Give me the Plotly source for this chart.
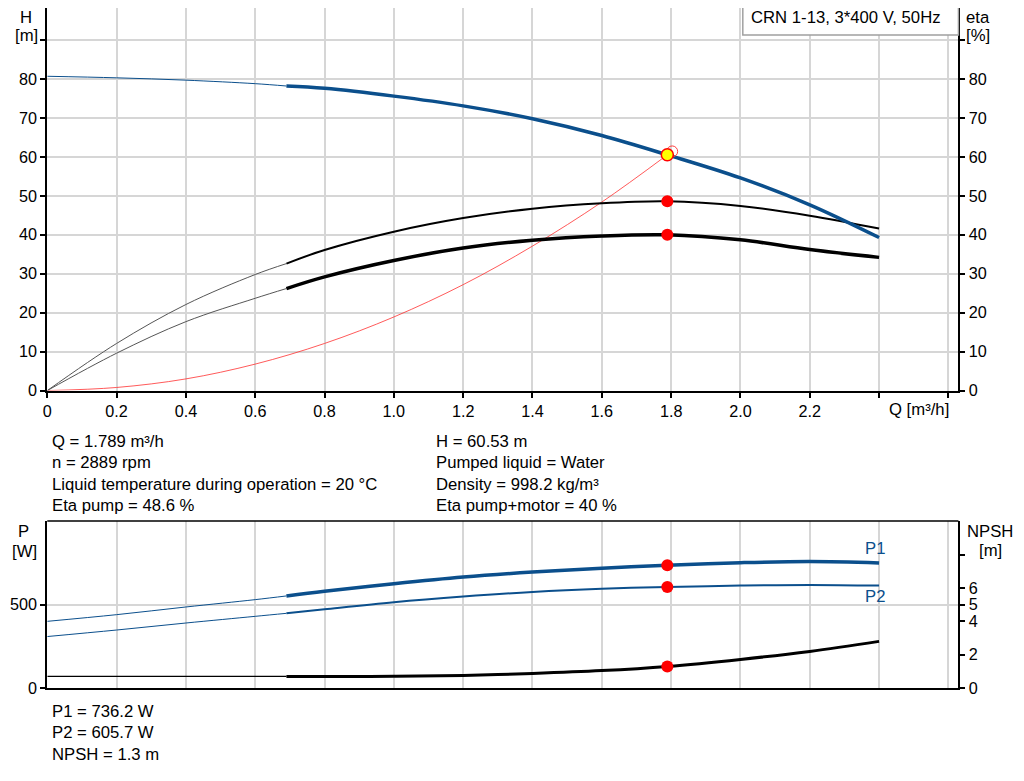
import plotly.graph_objects as go

# curve data
q_pts = [0, 0.2, 0.4, 0.6, 0.69, 0.8, 1.0, 1.2, 1.4, 1.6, 1.789, 2.0, 2.2, 2.4]
head_m = [80.7, 80.3, 79.7, 78.8, 78.2, 77.6, 75.6, 73.1, 69.8, 65.5, 60.53, 54.6, 47.7, 39.3]
eta_pump = [0, 12.1, 22.1, 29.8, 32.6, 36.1, 40.8, 44.3, 46.7, 48.1, 48.6, 47.4, 44.9, 41.6]
eta_total = [0, 9.6, 17.7, 23.7, 26.2, 29.2, 33.4, 36.6, 38.6, 39.7, 40.0, 38.7, 36.2, 34.2]
p1_w = [400, 440, 486, 530, 552, 580, 625, 665, 695, 718, 736.2, 751, 758, 750]
p2_w = [309, 348, 390, 430, 448, 472, 514, 548, 576, 595, 605.7, 614, 618, 614]
npsh_m = [0.7, 0.7, 0.7, 0.7, 0.7, 0.7, 0.71, 0.76, 0.88, 1.05, 1.3, 1.72, 2.2, 2.8]

# system curve up to the duty point
q_sys = [0, 0.2, 0.4, 0.6, 0.8, 1.0, 1.2, 1.4, 1.6, 1.789]
h_sys = [0, 0.8, 3.0, 6.8, 12.1, 18.9, 27.2, 37.1, 48.4, 60.53]

q_duty = 1.789
h_duty = 60.53
eta_pump_duty = 48.6
eta_total_duty = 40
p1_duty = 736.2
p2_duty = 605.7
npsh_duty = 1.3

x_ticks = [0, 0.2, 0.4, 0.6, 0.8, 1.0, 1.2, 1.4, 1.6, 1.8, 2.0, 2.2, 2.4, 2.6]
x_labels = ['0', '0.2', '0.4', '0.6', '0.8', '1.0', '1.2', '1.4', '1.6', '1.8', '2.0', '2.2', '', '']
h_ticks = [0, 10, 20, 30, 40, 50, 60, 70, 80, 90]
h_labels = ['0', '10', '20', '30', '40', '50', '60', '70', '80', '']
p_ticks = [0, 500]
npsh_ticks = [0, 2, 4, 5, 6, 8]
npsh_labels = ['0', '2', '4', '5', '6', '']

info_left = ['Q = 1.789 m³/h', 'n = 2889 rpm',
             'Liquid temperature during operation = 20 °C', 'Eta pump = 48.6 %']
info_right = ['H = 60.53 m', 'Pumped liquid = Water',
              'Density = 998.2 kg/m³', 'Eta pump+motor = 40 %']
info_bottom = ['P1 = 736.2 W', 'P2 = 605.7 W', 'NPSH = 1.3 m']

BLUE = '#0b4f8c'
FONT = 'Liberation Sans, Arial, sans-serif'
TXT = 16.7
TICK = 16.2

# figure sits 8px into the page and the shot comes out a little squeezed
# vertically; positions below are wanted screen pixels, mapped back here
OFF = 8
FW, FH = 1008, 765
SY, CY = 0.988, -0.9
SX, CX = 0.9967, 3.0


def px(sx):
    return ((sx - CX) / SX - OFF) / FW


def py(sy):
    return 1 - ((sy - CY) / SY - OFF) / FH


i0 = q_pts.index(0.69)

fig = go.Figure()


def two_part(x, y, xa, ya, color, thin, thick, thin_color=None):
    fig.add_trace(go.Scatter(x=x[:i0 + 1], y=y[:i0 + 1], xaxis=xa, yaxis=ya, mode='lines',
                             line=dict(color=thin_color or color, width=thin, shape='spline'),
                             hoverinfo='skip'))
    fig.add_trace(go.Scatter(x=x[i0:], y=y[i0:], xaxis=xa, yaxis=ya, mode='lines',
                             line=dict(color=color, width=thick, shape='spline'),
                             hoverinfo='skip'))


# top chart
fig.add_trace(go.Scatter(x=q_sys, y=h_sys, mode='lines', line=dict(color='#ff3030', width=0.8, shape='spline'),
                         hoverinfo='skip'))
two_part(q_pts, eta_pump, 'x', 'y', 'black', 1, 2, '#555555')
two_part(q_pts, eta_total, 'x', 'y', 'black', 1, 3.5, '#555555')
two_part(q_pts, head_m, 'x', 'y', BLUE, 1, 3.5)
fig.add_trace(go.Scatter(x=[q_duty, q_duty], y=[eta_pump_duty, eta_total_duty], mode='markers',
                         marker=dict(color='red', size=12), hoverinfo='skip'))
fig.add_trace(go.Scatter(x=[1.803], y=[61.4], mode='markers',
                         marker=dict(color='rgba(0,0,0,0)', size=11, line=dict(color='#ff4040', width=1)),
                         hoverinfo='skip'))
fig.add_trace(go.Scatter(x=[q_duty], y=[h_duty], mode='markers',
                         marker=dict(color='#ffff00', size=12, line=dict(color='red', width=1.5)),
                         hoverinfo='skip'))
# invisible trace to activate right eta axis
fig.add_trace(go.Scatter(x=[0], y=[0], yaxis='y2', mode='markers', marker=dict(opacity=0), hoverinfo='skip'))

# bottom chart
two_part(q_pts, p1_w, 'x2', 'y3', BLUE, 1, 3.5)
two_part(q_pts, p2_w, 'x2', 'y3', BLUE, 1, 2)
two_part(q_pts, npsh_m, 'x2', 'y4', 'black', 1.2, 3)
fig.add_trace(go.Scatter(x=[q_duty, q_duty], y=[p1_duty, p2_duty], xaxis='x2', yaxis='y3', mode='markers',
                         marker=dict(color='red', size=12), hoverinfo='skip'))
fig.add_trace(go.Scatter(x=[q_duty], y=[npsh_duty], xaxis='x2', yaxis='y4', mode='markers',
                         marker=dict(color='red', size=12), hoverinfo='skip'))

x_dom = [px(45.3), px(958)]
top_dom = [py(389.5), 1.0]
bot_dom = [py(687), py(520)]
fig_top_screen = SY * OFF + CY
h_top = (389.5 - fig_top_screen) / 3.894

axis_common = dict(showline=True, linecolor='black', linewidth=2, ticks='outside', ticklen=5,
                   tickcolor='black', tickwidth=1.5, tickfont=dict(size=TICK, color='black', family=FONT),
                   zeroline=False)
grid = dict(showgrid=True, gridcolor='#d6d6d6', gridwidth=1.5)

fig.update_layout(
    width=FW, height=FH,
    margin=dict(l=0, r=0, t=0, b=0),
    paper_bgcolor='white', plot_bgcolor='white',
    showlegend=False,
    font=dict(family=FONT, size=TXT, color='black'),
    xaxis=dict(domain=x_dom, range=[0, 2.629], anchor='y', tickvals=x_ticks, ticktext=x_labels,
               **grid, **axis_common),
    yaxis=dict(domain=top_dom, range=[0, h_top], anchor='x', tickvals=h_ticks, ticktext=h_labels,
               **grid, **axis_common),
    yaxis2=dict(range=[0, h_top], overlaying='y', side='right', anchor='x', tickvals=h_ticks,
                ticktext=h_labels, showgrid=False, **axis_common),
    xaxis2=dict(domain=x_dom, range=[0, 2.629], anchor='y3', tickvals=x_ticks, showticklabels=False,
                showgrid=True, gridcolor='#d6d6d6', gridwidth=1.5, showline=True, linecolor='black',
                linewidth=2, ticks='', zeroline=False),
    yaxis3=dict(domain=bot_dom, range=[0, 1000], anchor='x2', tickvals=p_ticks,
                **grid, **axis_common),
    yaxis4=dict(range=[0, 10], overlaying='y3', side='right', anchor='x2', tickvals=npsh_ticks,
                ticktext=npsh_labels, showgrid=False, **axis_common),
)

# frame line on top of the lower chart
fig.add_shape(type='line', xref='paper', yref='paper', x0=x_dom[0], x1=x_dom[1],
              y0=bot_dom[1], y1=bot_dom[1], line=dict(color='black', width=1.5))

# model box (its top edge sits above the visible page)
fig.add_shape(type='rect', xref='paper', yref='paper', x0=px(742), x1=px(958), y0=py(34), y1=1,
              line=dict(width=0), fillcolor='white', layer='above')
fig.add_shape(type='path', xref='paper', yref='paper', layer='above',
              path=f'M {px(742)},1 L {px(742)},{py(34)} L {px(958)},{py(34)} L {px(958)},1',
              line=dict(color='#a0a0a0', width=1.5))


def label(text, sx, sy, anchor='left', color='black'):
    fig.add_annotation(text=text, x=px(sx), y=py(sy), xref='paper', yref='paper',
                       xanchor=anchor, yanchor='middle', showarrow=False,
                       font=dict(size=TXT, color=color, family=FONT))


label('CRN 1-13, 3*400 V, 50Hz', 748, 17)
label('H', 24, 17, 'center')
label('[m]', 24, 34, 'center')
label('eta', 978, 17, 'center')
label('[%]', 978, 34, 'center')
label('Q [m³/h]', 918, 408, 'center')
label('P', 21, 530, 'center')
label('[W]', 22, 550, 'center')
label('NPSH', 990, 530, 'center')
label('[m]', 990, 549, 'center')
label('P1', 874, 547, 'center', BLUE)
label('P2', 874, 595, 'center', BLUE)

for k, t in enumerate(info_left):
    label(t, 48, 440 + k * 21.5)
for k, t in enumerate(info_right):
    label(t, 433, 440 + k * 21.5)
for k, t in enumerate(info_bottom):
    label(t, 48, 710 + k * 21.7)

fig.write_html("out.html")
